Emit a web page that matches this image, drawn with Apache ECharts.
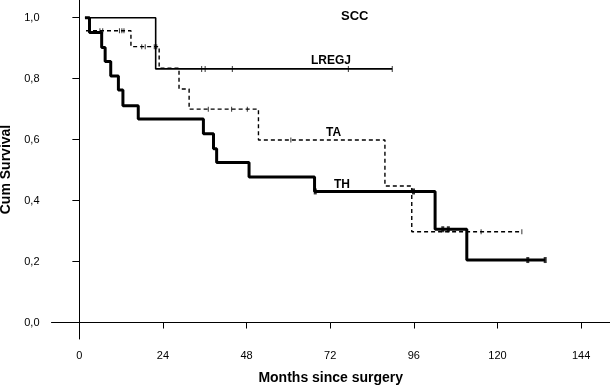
<!DOCTYPE html>
<html>
<head>
<meta charset="utf-8">
<script src="https://cdn.jsdelivr.net/npm/echarts@6/dist/echarts.min.js"></script>
<style>
  html, body { margin: 0; padding: 0; background: #fff; }
  #chart { width: 610px; height: 385px; }
</style>
</head>
<body>
<div id="chart"></div>
<script>
// step curves: [month, survival] at each event
var lregjSteps = [[1.6, 1.0], [21.9, 0.832], [89.8, 0.832]];
var taSteps = [[1.9, 0.957], [14.8, 0.905], [22.9, 0.834], [28.6, 0.766], [31.5, 0.700],
  [51.4, 0.599], [87.7, 0.448], [95.4, 0.298], [127.0, 0.298]];
var thSteps = [[1.6, 1.0], [2.9, 0.951], [6.4, 0.902], [7.4, 0.856], [9.0, 0.809], [11.2, 0.763],
  [12.5, 0.711], [16.9, 0.668], [35.6, 0.619], [38.5, 0.570], [39.4, 0.525], [48.7, 0.477],
  [67.5, 0.430], [102.1, 0.306], [111.2, 0.205], [133.7, 0.205]];

// censored cases
var lregjCensor = [[35.1, 0.832], [36.1, 0.832], [43.9, 0.832], [77.2, 0.832], [89.8, 0.832]];
var taCensor = [[5.9, 0.957], [6.7, 0.957], [11.5, 0.957], [12.2, 0.957], [12.8, 0.957],
  [17.9, 0.905], [18.9, 0.905], [21.5, 0.905], [22.2, 0.905],
  [37.0, 0.700], [43.7, 0.700], [48.2, 0.700], [60.7, 0.599], [115.3, 0.298], [127.0, 0.298]];
var thCensor = [[67.7, 0.430], [95.9, 0.430], [104.3, 0.306], [105.9, 0.306], [128.7, 0.205], [133.7, 0.205]];

var monthTicks = [0, 24, 48, 72, 96, 120, 144];
var survTicks = [0, 0.2, 0.4, 0.6, 0.8, 1.0];

var font = 'Liberation Sans, Arial, Helvetica, sans-serif';

function stepSeries(name, data, width, type) {
  return {
    name: name,
    type: 'line',
    step: 'end',
    symbol: 'none',
    lineStyle: { color: '#000', width: width, type: type },
    data: data
  };
}

function censorSeries(name, data, size) {
  return {
    name: name,
    type: 'scatter',
    symbol: 'rect',
    symbolSize: size,
    itemStyle: { color: '#000' },
    data: data
  };
}

var myChart = echarts.init(document.getElementById('chart'));
var option = {
  animation: false,
  backgroundColor: '#fff',
  grid: { left: 51.5, right: 0, top: 0, bottom: 46, outerBoundsMode: 'none' },
  xAxis: {
    type: 'value',
    min: -8,
    max: 152.3,
    name: 'Months since surgery',
    nameLocation: 'middle',
    nameGap: 32,
    nameTextStyle: { fontFamily: font, fontWeight: 'bold', fontSize: 14, color: '#000' },
    axisLine: { lineStyle: { color: '#000', width: 1 } },
    axisTick: { customValues: monthTicks, length: 6, lineStyle: { color: '#000' } },
    axisLabel: { customValues: monthTicks, margin: 11, fontFamily: font, fontSize: 11, color: '#000' },
    splitLine: { show: false }
  },
  yAxis: {
    type: 'value',
    min: -0.054,
    max: 1.058,
    name: 'Cum Survival',
    nameLocation: 'middle',
    nameGap: 31,
    nameTextStyle: { fontFamily: font, fontWeight: 'bold', fontSize: 14, color: '#000', padding: [0, 0, 0, 0] },
    axisLine: { show: true, lineStyle: { color: '#000', width: 1 } },
    axisTick: { show: true, customValues: survTicks, length: 7, lineStyle: { color: '#000' } },
    axisLabel: {
      customValues: survTicks,
      margin: 12,
      fontFamily: font,
      fontSize: 11,
      color: '#000',
      formatter: function (v) { return v.toFixed(1).replace('.', ','); }
    },
    splitLine: { show: false }
  },
  graphic: [
    { type: 'text', left: 341, top: 10, style: { text: 'SCC', font: 'bold 13px ' + font, fill: '#000' } },
    { type: 'text', left: 311, top: 55, style: { text: 'LREGJ', font: 'bold 12px ' + font, fill: '#000' } },
    { type: 'text', left: 326, top: 127, style: { text: 'TA', font: 'bold 12px ' + font, fill: '#000' } },
    { type: 'text', left: 334, top: 179, style: { text: 'TH', font: 'bold 12px ' + font, fill: '#000' } }
  ],
  series: [
    stepSeries('LREGJ', lregjSteps, 1.6, 'solid'),
    stepSeries('TA', taSteps, 1.4, [4, 3]),
    stepSeries('TH', thSteps, 3, 'solid'),
    censorSeries('LREGJ censored', lregjCensor, [1, 6]),
    censorSeries('TA censored', taCensor, [1, 5]),
    censorSeries('TH censored', thCensor, [3, 6])
  ]
};
myChart.setOption(option, true);
</script>
</body>
</html>
